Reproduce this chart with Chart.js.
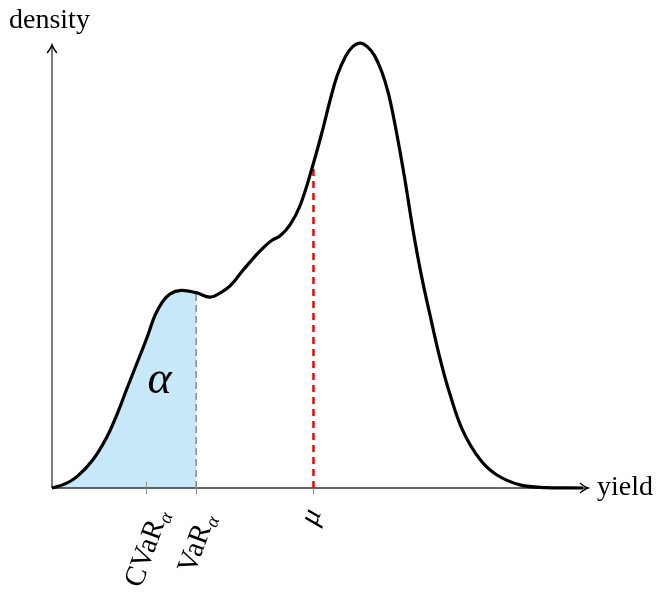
<!DOCTYPE html>
<html>
<head>
<meta charset="utf-8">
<script src="https://cdn.jsdelivr.net/npm/chart.js@4.4.1/dist/chart.umd.min.js"></script>
<style>
  html, body { margin: 0; padding: 0; background: #fff; }
  #wrap { position: relative; width: 664px; height: 609px; }
</style>
</head>
<body>
<div id="wrap"><canvas id="density-chart"></canvas></div>
<script>
// yield (x) and density (y)
const yieldValues = [0, 0.22, 0.47, 0.76, 1.02, 1.21, 1.39, 1.58, 1.77, 1.91, 2.05, 2.19, 2.40, 2.68, 2.94, 3.16,
    3.31, 3.55, 3.81, 3.96, 4.09, 4.24, 4.42, 4.61, 4.85, 5.04, 5.17, 5.30, 5.45, 5.58, 5.73, 5.87, 6.00,
    6.13, 6.25, 6.36, 6.47, 6.56, 6.71, 6.86, 7.03, 7.21, 7.40, 7.64, 7.96, 8.27, 8.70, 9.20, 9.87];
const densityValues = [0, 0.008, 0.026, 0.063, 0.114, 0.165, 0.221, 0.279, 0.337, 0.384, 0.415, 0.433, 0.441, 0.436, 0.426, 0.438,
    0.451, 0.486, 0.522, 0.540, 0.553, 0.563, 0.587, 0.630, 0.721, 0.804, 0.866, 0.920, 0.962, 0.984, 0.993, 0.984, 0.964,
    0.929, 0.882, 0.821, 0.750, 0.688, 0.576, 0.478, 0.384, 0.290, 0.208, 0.127, 0.063, 0.029, 0.007, 0.001, 0];

// markers on the yield axis
const markerNames = ['CVaR', 'VaR', 'μ'];
const markerSubs = ['α', 'α', ''];
const markerYields = [1.75, 2.68, 4.86];

const varYield = 2.68;
const varDensity = 0.436;
const muYield = 4.86;
const muDensity = 0.717;

const xTitle = 'yield';
const yTitle = 'density';
const areaLabel = 'α';

const SERIF = '"Liberation Serif", "DejaVu Serif", serif';

function tailFill(context) {
    const chart = context.chart;
    const area = chart.chartArea;
    if (!area) return 'rgba(0,0,0,0)';
    const x = chart.scales.x.getPixelForValue(varYield);
    const stop = Math.min(1, Math.max(0, (x - area.left) / (area.right - area.left)));
    const g = chart.ctx.createLinearGradient(area.left, 0, area.right, 0);
    g.addColorStop(0, 'rgb(198,232,248)');
    g.addColorStop(stop, 'rgb(198,232,248)');
    g.addColorStop(stop, 'rgba(255,255,255,0)');
    g.addColorStop(1, 'rgba(255,255,255,0)');
    return g;
}

function arrowHead(ctx, x, y, angle) {
    ctx.save();
    ctx.translate(x, y);
    ctx.rotate(angle);
    ctx.beginPath();
    ctx.moveTo(-7.5, -4.5);
    ctx.quadraticCurveTo(-2.5, -0.8, 0, 0);
    ctx.quadraticCurveTo(-2.5, 0.8, -7.5, 4.5);
    ctx.lineWidth = 1.5;
    ctx.strokeStyle = '#000';
    ctx.lineCap = 'round';
    ctx.stroke();
    ctx.restore();
}

const axesPlugin = {
    id: 'texAxes',
    beforeDatasetsDraw(chart) {
        const { ctx, chartArea, scales } = chart;
        const x0 = scales.x.getPixelForValue(0);
        const y0 = scales.y.getPixelForValue(0);
        const xEnd = chartArea.right - 2;
        const yEnd = chartArea.top + 5;
        ctx.save();
        ctx.strokeStyle = '#333';
        ctx.lineWidth = 1.3;
        ctx.beginPath();
        ctx.moveTo(x0, y0);
        ctx.lineTo(xEnd - 1, y0);
        ctx.moveTo(x0, y0);
        ctx.lineTo(x0, yEnd + 1);
        ctx.stroke();

        // tick marks
        ctx.strokeStyle = '#888';
        ctx.lineWidth = 1;
        markerYields.forEach(v => {
            const px = Math.round(scales.x.getPixelForValue(v)) + 0.5;
            ctx.beginPath();
            ctx.moveTo(px, y0 - 6);
            ctx.lineTo(px, y0 + 6);
            ctx.stroke();
        });
        ctx.restore();
        arrowHead(ctx, xEnd, y0, 0);
        arrowHead(ctx, x0, yEnd, -Math.PI / 2);
    },
    afterDatasetsDraw(chart, args, opts) {
        const { ctx, chartArea, scales } = chart;
        const y0 = scales.y.getPixelForValue(0);
        ctx.save();
        ctx.fillStyle = '#000';
        ctx.textBaseline = 'alphabetic';

        ctx.font = '28px ' + SERIF;
        ctx.textAlign = 'left';
        ctx.fillText(yTitle, 9, 28);
        ctx.fillText(xTitle, chartArea.right + 7, y0 + 7);

        // tail probability label
        ctx.font = 'italic 46px ' + SERIF;
        ctx.textAlign = 'center';
        ctx.textBaseline = 'middle';
        ctx.fillText(areaLabel, scales.x.getPixelForValue(2.0), scales.y.getPixelForValue(0.24));

        // rotated marker labels
        const ang = -70 * Math.PI / 180;
        ctx.textAlign = 'left';
        ctx.textBaseline = 'alphabetic';
        markerNames.forEach((name, i) => {
            const px = scales.x.getPixelForValue(markerYields[i]);
            ctx.font = '29px ' + SERIF;
            const w = ctx.measureText(name).width;
            ctx.font = 'italic 19px ' + SERIF;
            const ws = markerSubs[i] ? ctx.measureText(markerSubs[i]).width + 1 : 0;
            const total = w + ws;
            ctx.save();
            ctx.translate(px + opts.labelShift[i], y0 + opts.labelDrop[i]);
            ctx.rotate(ang);
            ctx.font = (markerSubs[i] ? '' : 'italic ') + '29px ' + SERIF;
            ctx.fillText(name, -total / 2, 9);
            if (markerSubs[i]) {
                ctx.font = 'italic 19px ' + SERIF;
                ctx.fillText(markerSubs[i], -total / 2 + w + 1, 14);
            }
            ctx.restore();
        });
        ctx.restore();
    }
};

const curvePoints = yieldValues.map((x, i) => ({ x: x, y: densityValues[i] }));

new Chart(document.getElementById('density-chart'), {
    type: 'line',
    data: {
        datasets: [{
            data: curvePoints,
            borderColor: '#000',
            borderWidth: 3.2,
            pointRadius: 0,
            tension: 0.4,
            fill: 'origin',
            backgroundColor: tailFill,
            clip: false
        }, {
            data: [{ x: varYield, y: 0 }, { x: varYield, y: varDensity }],
            borderColor: '#8a8a8a',
            borderWidth: 1.5,
            borderDash: [7, 4],
            pointRadius: 0,
            fill: false
        }, {
            data: [{ x: muYield, y: 0 }, { x: muYield, y: muDensity }],
            borderColor: '#f00',
            borderWidth: 2.5,
            borderDash: [7, 5],
            pointRadius: 0,
            fill: false
        }]
    },
    options: {
        responsive: true,
        maintainAspectRatio: false,
        animation: false,
        layout: { padding: { left: 52, right: 74, top: 40, bottom: 121 } },
        scales: {
            x: { type: 'linear', min: 0, max: 10, display: false },
            y: { type: 'linear', min: 0, max: 1, display: false }
        },
        plugins: {
            legend: { display: false },
            tooltip: { enabled: false },
            filler: { drawTime: 'beforeDatasetsDraw' },
            texAxes: { labelDrop: [60, 55, 28], labelShift: [0, 0, -3] }
        }
    },
    plugins: [axesPlugin]
});
</script>
</body>
</html>
